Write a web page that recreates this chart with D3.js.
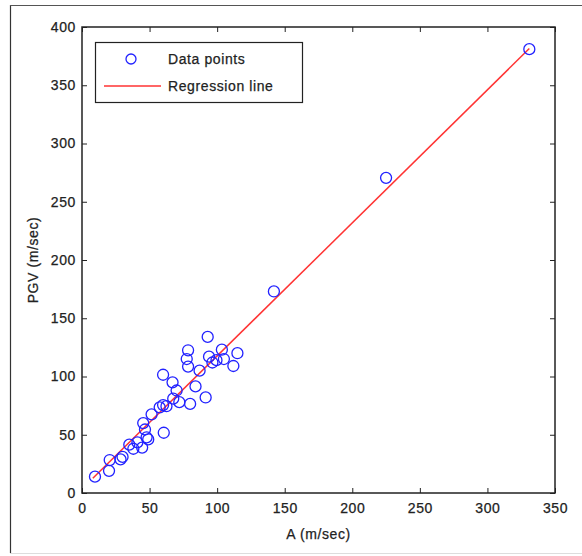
<!DOCTYPE html>
<html>
<head>
<meta charset="utf-8">
<script src="https://cdn.jsdelivr.net/npm/d3@7"></script>
<style>
  html, body { margin: 0; padding: 0; background: #fff; }
  svg text {
    font-family: "Liberation Sans", Arial, sans-serif;
    fill: #222;
    stroke: #222;
    stroke-width: 0.25px;
    letter-spacing: 0.6px;
  }
</style>
</head>
<body>
<div id="chart"></div>
<script>
// A (m/sec) vs PGV (m/sec)
const pointsA = [9.6, 20, 20.5, 28.5, 30, 35, 38, 41, 44.5, 45.3, 46.6, 47.8, 49, 51.5, 60.5,
  57.5, 60, 62.5, 60, 67, 70, 67.5, 72, 80, 84, 91.5, 78.5, 77.5, 78.5, 93, 87, 94, 96.5,
  103.5, 105, 99.5, 115, 112, 142, 225, 331];
const pointsPGV = [14, 19, 28.3, 28.9, 31, 41.5, 38, 43.5, 39, 60, 54.5, 47.8, 46, 67.5, 51.7,
  73.5, 75.5, 74.5, 101.5, 95, 88, 81, 78, 76.5, 91.5, 82, 122.5, 115, 108.5, 134, 105, 117, 112,
  123, 115, 114, 120, 109, 173, 270.5, 381];
const lineA = [8, 331];
const linePGV = [12.6, 381.5];
const xTicks = [0, 50, 100, 150, 200, 250, 300, 350];
const yTicks = [0, 50, 100, 150, 200, 250, 300, 350, 400];

const width = 582, height = 556;
const margin = { top: 27, right: 27, bottom: 63, left: 82 };
const fontSize = 14;

const svg = d3.select('#chart')
  .append('svg')
  .attr('width', width)
  .attr('height', height);

// outer frame of the figure
svg.append('line').attr('x1', 10.5).attr('x2', 10.5).attr('y1', 5).attr('y2', 553)
  .attr('stroke', '#333').attr('stroke-width', 1.2);
svg.append('line').attr('x1', 10).attr('x2', width).attr('y1', 5.5).attr('y2', 5.5)
  .attr('stroke', '#555').attr('stroke-width', 1.2);
svg.append('line').attr('x1', 10).attr('x2', width).attr('y1', 553.5).attr('y2', 553.5)
  .attr('stroke', '#ddd').attr('stroke-width', 1);

const x = d3.scaleLinear()
  .domain([0, 350])
  .range([margin.left, width - margin.right]);

const y = d3.scaleLinear()
  .domain([0, 400])
  .range([height - margin.bottom, margin.top]);

const x0 = x(0), x1 = x(350), y0 = y(0), y1 = y(400);

// Bottom / top axes (ticks inward)
svg.append('g')
  .attr('transform', `translate(0,${y0})`)
  .call(d3.axisBottom(x).tickValues(xTicks).tickSize(-5).tickPadding(10))
  .call(g => g.select('.domain').remove())
  .call(g => g.selectAll('.tick line').attr('stroke', '#222'))
  .call(g => g.selectAll('.tick text').attr('font-size', fontSize));

svg.append('g')
  .attr('transform', `translate(0,${y1})`)
  .call(d3.axisTop(x).tickValues(xTicks).tickSize(-5).tickFormat(''))
  .call(g => g.select('.domain').remove())
  .call(g => g.selectAll('.tick line').attr('stroke', '#222'));

// Left / right axes
svg.append('g')
  .attr('transform', `translate(${x0},0)`)
  .call(d3.axisLeft(y).tickValues(yTicks).tickSize(-5).tickPadding(6))
  .call(g => g.select('.domain').remove())
  .call(g => g.selectAll('.tick line').attr('stroke', '#222'))
  .call(g => g.selectAll('.tick text').attr('font-size', fontSize));

svg.append('g')
  .attr('transform', `translate(${x1},0)`)
  .call(d3.axisRight(y).tickValues(yTicks).tickSize(-5).tickFormat(''))
  .call(g => g.select('.domain').remove())
  .call(g => g.selectAll('.tick line').attr('stroke', '#222'));

// box
svg.append('rect')
  .attr('x', x0).attr('y', y1)
  .attr('width', x1 - x0).attr('height', y0 - y1)
  .attr('fill', 'none')
  .attr('stroke', '#222')
  .attr('stroke-width', 1.5);

// regression line
svg.append('line')
  .attr('x1', x(lineA[0])).attr('y1', y(linePGV[0]))
  .attr('x2', x(lineA[1])).attr('y2', y(linePGV[1]))
  .attr('stroke', '#ff3333')
  .attr('stroke-width', 1.5);

// data points
svg.selectAll('.pt')
  .data(pointsA.map((a, i) => ({ a, v: pointsPGV[i] })))
  .enter()
  .append('circle')
  .attr('class', 'pt')
  .attr('cx', d => x(d.a))
  .attr('cy', d => y(d.v))
  .attr('r', 5.5)
  .attr('fill', 'none')
  .attr('stroke', '#2222ff')
  .attr('stroke-width', 1.3);

// axis labels
svg.append('text')
  .attr('x', (x0 + x1) / 2)
  .attr('y', 539)
  .attr('text-anchor', 'middle')
  .attr('font-size', fontSize)
  .text('A (m/sec)');

svg.append('text')
  .attr('transform', `translate(38,${(y0 + y1) / 2}) rotate(-90)`)
  .attr('text-anchor', 'middle')
  .attr('font-size', fontSize)
  .text('PGV (m/sec)');

// legend
const legend = svg.append('g');
legend.append('rect')
  .attr('x', 95.5).attr('y', 42.5)
  .attr('width', 207).attr('height', 60)
  .attr('fill', '#fff')
  .attr('stroke', '#222')
  .attr('stroke-width', 1.2);
legend.append('circle')
  .attr('cx', 131).attr('cy', 59)
  .attr('r', 5)
  .attr('fill', 'none')
  .attr('stroke', '#2222ff')
  .attr('stroke-width', 1.3);
legend.append('text')
  .attr('x', 168).attr('y', 64)
  .attr('font-size', fontSize)
  .text('Data points');
legend.append('line')
  .attr('x1', 104).attr('x2', 161)
  .attr('y1', 86).attr('y2', 86)
  .attr('stroke', '#ff3333')
  .attr('stroke-width', 1.5);
legend.append('text')
  .attr('x', 168).attr('y', 91)
  .attr('font-size', fontSize)
  .text('Regression line');
</script>
</body>
</html>
